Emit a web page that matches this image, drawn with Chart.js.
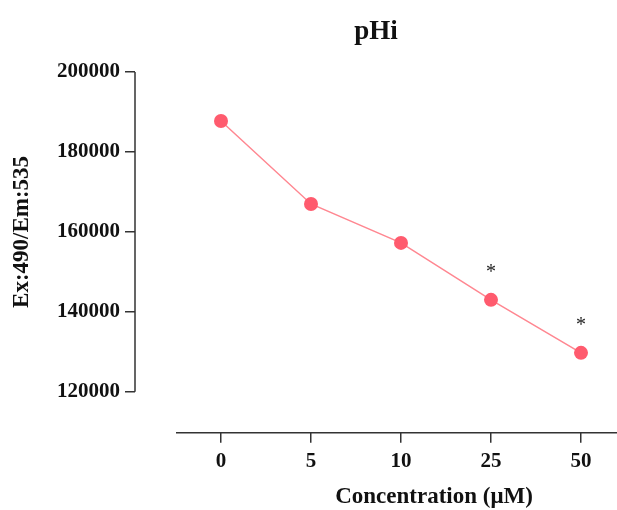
<!DOCTYPE html>
<html>
<head>
<meta charset="utf-8">
<script src="https://cdn.jsdelivr.net/npm/chart.js@4/dist/chart.umd.min.js"></script>
<style>
  html, body { margin: 0; padding: 0; background: #fff; overflow: hidden; }
  #wrap { width: 617px; height: 510px; }
</style>
</head>
<body>
<div id="wrap"><canvas id="chart"></canvas></div>
<script>
  // 데이터
  const concentrations = ['0', '5', '10', '25', '50'];
  const intensity = [187750, 167000, 157250, 143000, 129750];
  const significance = ['', '', '', '*', '*'];
  const yTicks = [120000, 140000, 160000, 180000, 200000];
  const xTitle = 'Concentration (μM)';
  const yTitle = 'Ex:490/Em:535';

  const SERIF = "'Liberation Serif', 'Times New Roman', serif";
  const AXIS = '#333333';

  // Prism 스타일 분리된 축선 + 축 제목 + 유의성 표시
  const prismAxes = {
    id: 'prismAxes',
    afterDraw(chart) {
      const { ctx, chartArea, scales: { x, y } } = chart;
      const yTop = y.getPixelForValue(yTicks[yTicks.length - 1]);
      const yBot = y.getPixelForValue(yTicks[0]);
      ctx.save();
      ctx.strokeStyle = AXIS;
      ctx.lineWidth = 1.5;
      ctx.beginPath();
      ctx.moveTo(chartArea.left, yTop);
      ctx.lineTo(chartArea.left, yBot);
      ctx.moveTo(x.getPixelForValue(-0.5), chartArea.bottom);
      ctx.lineTo(chartArea.right, chartArea.bottom);
      ctx.stroke();

      ctx.fillStyle = '#111';
      ctx.textAlign = 'center';
      ctx.textBaseline = 'middle';
      ctx.font = "bold 23px " + SERIF;
      ctx.fillText(xTitle, 434, chartArea.bottom + 64);
      ctx.save();
      ctx.translate(22, (yTop + yBot) / 2);
      ctx.rotate(-Math.PI / 2);
      ctx.fillText(yTitle, 0, 0);
      ctx.restore();

      const meta = chart.getDatasetMeta(0);
      ctx.fillStyle = '#222';
      ctx.font = "20px " + SERIF;
      meta.data.forEach((pt, i) => {
        if (significance[i]) ctx.fillText(significance[i], pt.x, pt.y - 27);
      });
      ctx.restore();
    }
  };

  new Chart(document.getElementById('chart').getContext('2d'), {
    type: 'line',
    data: {
      datasets: [{
        data: intensity.map((v, i) => ({ x: i, y: v })),
        borderColor: '#ff8791',
        borderWidth: 1.5,
        pointRadius: 7,
        pointHoverRadius: 7,
        pointBackgroundColor: '#ff5b6e',
        pointBorderColor: '#ff5b6e',
        pointBorderWidth: 0,
        tension: 0
      }]
    },
    options: {
      responsive: true,
      maintainAspectRatio: false,
      animation: false,
      layout: { autoPadding: false, padding: { left: 0, right: 0, top: 0, bottom: 30 } },
      plugins: {
        legend: { display: false },
        tooltip: { enabled: false },
        title: {
          display: true,
          fullSize: false,
          text: 'pHi',
          color: '#111',
          font: { family: SERIF, size: 27, weight: 'bold' },
          padding: { top: 16, bottom: 23.6 }
        }
      },
      scales: {
        x: {
          type: 'linear',
          min: -0.9556,
          max: 4.4,
          afterBuildTicks: (s) => { s.ticks = concentrations.map((_, i) => ({ value: i })); },
          afterFit: (s) => { s.paddingLeft = 0; s.paddingRight = 0; },
          border: { display: false },
          grid: { drawOnChartArea: false, drawTicks: true, tickLength: 10, color: AXIS, lineWidth: 1.5 },
          ticks: {
            color: '#111',
            padding: 6,
            font: { family: SERIF, size: 21, weight: 'bold' },
            callback: (v) => concentrations[v]
          }
        },
        y: {
          min: 109750,
          max: 200000,
          afterBuildTicks: (s) => { s.ticks = yTicks.map(v => ({ value: v })); },
          afterFit: (s) => { s.width = 135; },
          border: { display: false },
          grid: { drawOnChartArea: false, drawTicks: true, tickLength: 10, color: AXIS, lineWidth: 1.5 },
          ticks: {
            color: '#111',
            padding: 5,
            font: { family: SERIF, size: 21, weight: 'bold' },
            callback: (v) => String(v)
          }
        }
      }
    },
    plugins: [prismAxes]
  });
</script>
</body>
</html>
